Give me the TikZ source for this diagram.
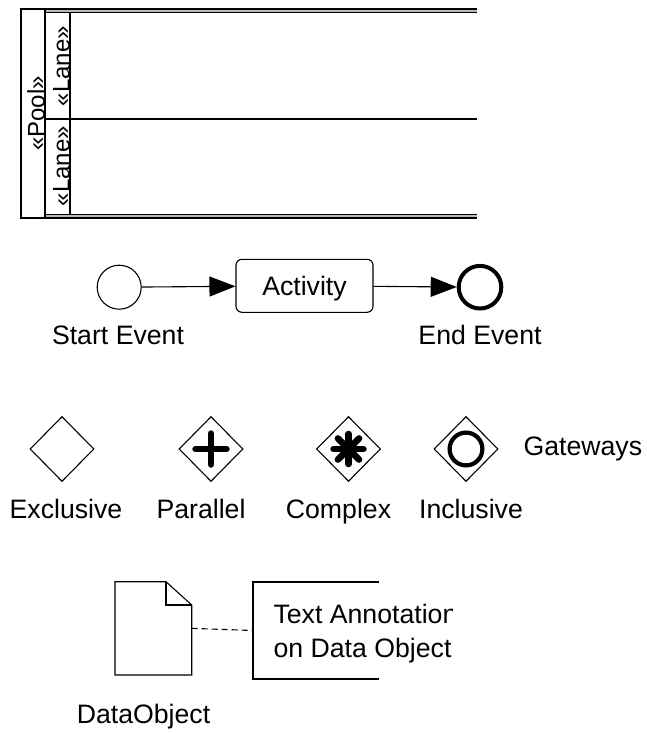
\documentclass[tikz,border=0pt]{standalone}
\usepackage{fontspec}
\setmainfont{Liberation Sans}
\usetikzlibrary{arrows.meta,shapes.geometric}
\begin{document}
\begin{tikzpicture}[x=1pt,y=-1pt,
  line width=1.1pt,
  lbl/.style={font=\fontsize{26.67}{32}\selectfont, inner sep=0pt},
  rlbl/.style={font=\fontsize{24}{28}\selectfont, inner sep=0pt, rotate=90, anchor=base},
  flow/.style={-{Triangle[length=26pt,width=20pt]}, line width=1.1pt},
  gw/.style={diamond, draw, line width=1.1pt, minimum width=64pt, minimum height=65pt, inner sep=0pt},
  gwmark/.style={line width=6.5pt, line cap=round},
  box/.style={inner sep=0pt, outer sep=0pt},
]
\useasboundingbox (0,0) rectangle (646,733);

% ---------- Pool and lanes ----------
\fill[gray!55] (45,9) rectangle (477,12.5);
\fill[gray!55] (45,214.5) rectangle (477,218);
\node[box, minimum width=24pt, minimum height=209pt] (poolcol) at (33,113.5) {};
\node[box, minimum width=25pt, minimum height=106.5pt] (lane1col) at (57.5,65.75) {};
\node[box, minimum width=25pt, minimum height=95.5pt] (lane2col) at (57.5,166.75) {};
\coordinate (pr1) at (477,9);
\coordinate (pr2) at (477,218);
\coordinate (lr1) at (477,12.5);
\coordinate (lr2) at (477,214.5);
\coordinate (lrm) at (477,119);
\draw[line width=1.3pt] (pr1) -- (poolcol.north west) -- (poolcol.south west) -- (pr2);
\draw (poolcol.north east) -- (poolcol.south east);
\draw (lr1) -- (lane1col.north west) -- (lane2col.south west) -- (lr2);
\draw (lane1col.north east) -- (lane2col.south east);
\draw (lane1col.south west) -- (lrm);
\node[rlbl] (poollbl) at (44.5,113.5) {«Pool»};
\node[rlbl] (lane1lbl) at (69.5,66) {«Lane»};
\node[rlbl] (lane2lbl) at (69.5,166) {«Lane»};

% ---------- Events and activity ----------
\node[circle, draw, line width=1.1pt, minimum size=44pt, inner sep=0pt] (start) at (119.2,287.2) {};
\node[draw, rounded corners=6pt, line width=1.1pt, minimum width=137pt, minimum height=53pt, inner sep=0pt] (act) at (304.5,285.8) {};
\node[lbl, anchor=base] (acttxt) at (304.5,295) {Activity};
\node[circle, draw, line width=4pt, minimum size=42.6pt, inner sep=0pt] (end) at (480,287.2) {};
\draw[flow] (start) -- (act);
\draw[flow] (act) -- (end);
\node[lbl, anchor=base] (startlbl) at (118,344.5) {Start Event};
\node[lbl, anchor=base] (endlbl) at (480,344.5) {End Event};

% ---------- Gateways ----------
\node[gw] (g1) at (62,449) {};
\node[gw] (g2) at (211,449) {};
\node[gw] (g3) at (348.5,449) {};
\node[gw] (g4) at (466,449) {};
\draw[gwmark] ([xshift=-15.5pt]g2.center) -- ([xshift=15.5pt]g2.center);
\draw[gwmark] ([yshift=-15.5pt]g2.center) -- ([yshift=15.5pt]g2.center);
\foreach \a in {0,45,90,135}{
  \draw[gwmark] ([shift={(\a:15pt)}]g3.center) -- ([shift={(\a+180:15pt)}]g3.center);
}
\draw[line width=4.2pt] (g4.center) circle[radius=16.4pt];
\node[lbl, anchor=base west] (gwlbl) at (523,455.5) {Gateways};
\node[lbl, anchor=base] (exl) at (66,518.5) {Exclusive};
\node[lbl, anchor=base] (pal) at (201,518.5) {Parallel};
\node[lbl, anchor=base] (col) at (338.5,518.5) {Complex};
\node[lbl, anchor=base] (inl) at (471,518.5) {Inclusive};

% ---------- Data object and annotation ----------
\node[box, minimum width=76.7pt, minimum height=93.3pt] (dobj) at (153.35,628.35) {};
\coordinate (fold1) at (166,581.7);
\coordinate (fold2) at (191.7,605);
\coordinate (fold3) at (166,605);
\draw (dobj.north west) -- (fold1) -- (fold2) -- (dobj.south east) -- (dobj.south west) -- cycle;
\draw (fold1) -- (fold3) -- (fold2);
\node[box, minimum width=126pt, minimum height=97pt, anchor=north west] (ann) at (253,582) {};
\draw (ann.north east) -- (ann.north west) -- (ann.south west) -- (ann.south east);
\draw[dash pattern=on 6pt off 4pt] (dobj.east) -- (ann.west);
\begin{scope}
  \clip (253,560) rectangle (452,700);
  \node[lbl, anchor=base west] (ann1) at (273,623.5) {Text Annotation};
  \node[lbl, anchor=base west] (ann2) at (273,657.5) {on Data Object};
\end{scope}
\node[lbl, anchor=base] (dolbl) at (143.5,723) {DataObject};
\end{tikzpicture}
\end{document}
